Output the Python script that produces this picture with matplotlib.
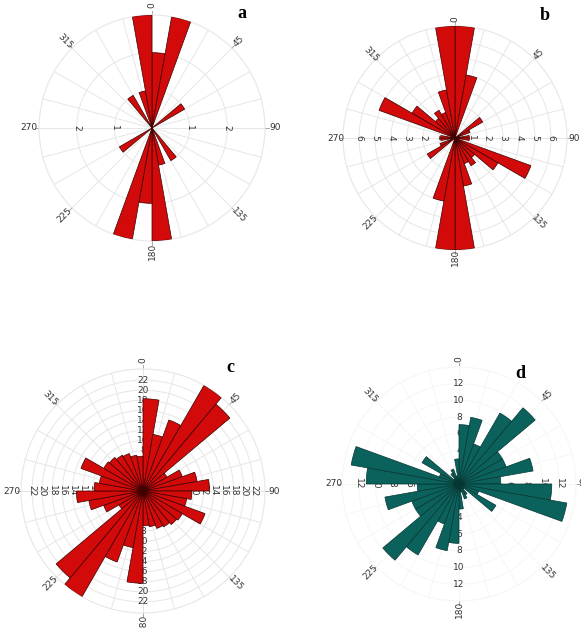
import numpy as np
import matplotlib.pyplot as plt

# 10 degree bins, clockwise from north
bin_start = np.arange(0, 360, 10)

a_counts = [2, 3, 0, 0, 0, 1, 0, 0, 0, 0, 0, 0, 0, 0, 1, 0, 1, 3,
            2, 3, 0, 0, 0, 1, 0, 0, 0, 0, 0, 0, 0, 0, 1, 0, 1, 3]
b_counts = [7.0, 4.0, 0, 0, 0, 2.0, 1.0, 0, 0.9, 0.9, 0, 5.05, 3.1, 1.6, 2.0, 1.7, 3.05, 7.0,
            7.0, 4.0, 0, 0, 0, 2.0, 1.0, 0, 0.9, 0.9, 0, 5.05, 3.1, 1.6, 2.0, 1.7, 3.05, 7.0]
c_counts = [18.3, 11.4, 15.0, 24.2, 22.5, 5.5, 8.3, 10.9, 13.2, 9.7, 8.8, 13.1, 9.0, 8.7, 8.2, 7.9, 7.2, 6.9,
            18.3, 11.4, 15.0, 24.2, 22.5, 5.5, 8.3, 10.9, 13.2, 9.7, 8.8, 13.1, 9.0, 8.7, 8.2, 7.9, 7.2, 6.9]
d_counts = [7.1, 8.1, 5.1, 9.8, 11.9, 6.0, 6.0, 9.0, 5.0, 11.1, 13.1, 2.5, 5.1, 0.8, 1.5, 1.9, 1.0, 3.0,
            7.1, 8.1, 5.1, 9.8, 11.9, 6.0, 6.0, 9.0, 5.0, 11.1, 13.1, 2.5, 5.1, 0.8, 1.5, 1.9, 1.0, 3.0]

angle_ticks = [0, 45, 90, 135, 180, 225, 270, 315]

W, H = 581, 628
fig = plt.figure(figsize=(W/100, H/100), dpi=100)


def rose(cx, cy, R, counts, rmax, rings, ring_lab, lab_axes, color, edge, grid, letter, lpos, lab_pad=10):
    ax = fig.add_axes([(cx-R)/W, (H-cy-R)/H, 2*R/W, 2*R/H], projection='polar')
    ax.set_theta_zero_location('N')
    ax.set_theta_direction(-1)
    ax.set_ylim(0, rmax)
    ax.set_yticks(rings)
    ax.set_yticklabels([])
    ax.set_xticks(np.deg2rad(np.arange(0, 360, 15)))
    ax.set_xticklabels([])
    ax.grid(True, color=grid, lw=0.7)
    ax.spines['polar'].set_color(grid)
    ax.spines['polar'].set_linewidth(0.8)
    th = np.deg2rad(bin_start + 5)
    ax.bar(th, counts, width=np.deg2rad(10), color=color, edgecolor=edge,
           linewidth=0.5, zorder=3)
    # angle labels
    for a in angle_ticks:
        t = np.deg2rad(a)
        rot = 90 - a
        while rot > 90:
            rot -= 180
        while rot <= -90:
            rot += 180
        ax.plot([t, t], [rmax, rmax*(1 + 4/R)], color='#999999', lw=0.6, clip_on=False, zorder=1)
        ax.text(t, rmax*(1 + lab_pad/R), str(a), rotation=rot, ha='center', va='center',
                fontsize=6.5, color='#333333', clip_on=False, rotation_mode='anchor')
    # ring labels
    for ang in lab_axes:
        t = np.deg2rad(ang)
        rot = -90 if ang in (90, 270) else 0
        for r, s in zip(ring_lab, [str(v) for v in ring_lab]):
            ax.text(t, r, s, rotation=rot, ha='center', va='center', fontsize=6.5,
                    color='#333333', zorder=2)
    fig.text(lpos[0]/W, 1 - lpos[1]/H, letter, fontsize=13, fontweight='bold',
             family='Liberation Serif', ha='center', va='center')
    return ax


red = '#d20a0a'
rose(152, 128, 113, a_counts, 3, [1, 2], [1, 2], [90, 270], red, '#3a0000', '#e6e6e6', 'a', (242, 13))
rose(455, 138, 112, b_counts, 7, [1, 2, 3, 4, 5, 6], [1, 2, 3, 4, 5, 6], [90, 270], red, '#3a0000',
     '#e6e6e6', 'b', (545, 16), lab_pad=7)
rose(143, 491, 122, c_counts, 24.2, list(range(2, 24, 2)), list(range(2, 24, 2)), [0, 90, 180, 270],
     red, '#3a0000', '#e6e6e6', 'c', (230, 367), lab_pad=9)
rose(459, 484, 117, d_counts, 14, list(range(2, 14, 2)), list(range(2, 14, 2)), [0, 90, 180, 270],
     '#0b625c', '#053532', '#f6f6f6', 'd', (520, 373), lab_pad=8)

fig.savefig('out.png', dpi=100)
